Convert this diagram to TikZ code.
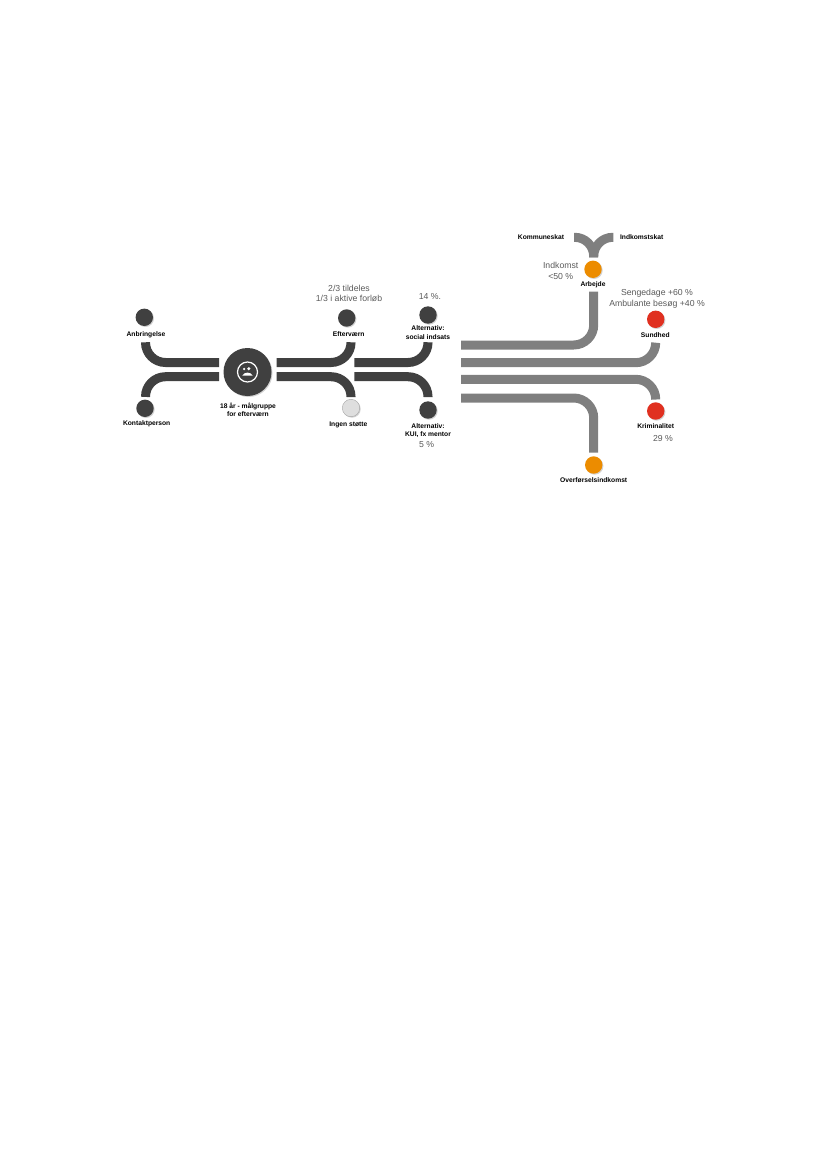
\documentclass[tikz,border=0pt]{standalone}
\usepackage{fontspec}
\setmainfont{Liberation Sans}
\usetikzlibrary{shadows}
\definecolor{efdark}{HTML}{404040}
\definecolor{efgray}{HTML}{7F7F7F}
\definecolor{eforange}{HTML}{EC8C00}
\definecolor{efred}{HTML}{E03020}
\definecolor{eflight}{HTML}{DEDEDE}
\definecolor{efnote}{HTML}{5A5A5A}
\tikzset{
  dot/.style={circle, minimum size=17.4pt, inner sep=0pt, drop shadow={shadow xshift=1pt, shadow yshift=-1pt, opacity=0.35}},
  lab/.style={font=\bfseries\fontsize{6.7}{8.4}\selectfont, align=center, inner sep=0pt, text=black},
  note/.style={font=\fontsize{8.7}{10.6}\selectfont, align=center, inner sep=0pt, text=efnote},
  band/.style={line width=9pt, rounded corners=20pt},
  dband/.style={band, draw=efdark},
  gband/.style={band, draw=efgray},
}
\begin{document}
\begin{tikzpicture}[x=1pt, y=-1pt]
  \useasboundingbox (0,0) rectangle (827,1169);
  % bands before the hub
  \coordinate (anbEnd) at (145.5,342.7);
  \coordinate (konEnd) at (145.5,396);
  \coordinate (hubInTop) at (219,362.5);
  \coordinate (hubInBot) at (219,376.7);
  \draw[dband] (anbEnd) |- (hubInTop);
  \draw[dband] (konEnd) |- (hubInBot);
  % bands after the hub
  \coordinate (hubOutTop) at (276.7,362.5);
  \coordinate (hubOutBot) at (276.7,376.7);
  \coordinate (eftEnd) at (351,343);
  \coordinate (ingEnd) at (351,397);
  \draw[dband] (eftEnd) |- (hubOutTop);
  \draw[dband] (ingEnd) |- (hubOutBot);
  % bands to the alternatives
  \coordinate (altInTop) at (354.3,362.5);
  \coordinate (altInBot) at (354.3,376.7);
  \coordinate (socEnd) at (428,343);
  \coordinate (kuiEnd) at (428,397);
  \draw[dband] (socEnd) |- (altInTop);
  \draw[dband] (kuiEnd) |- (altInBot);
  % outcome bands
  \coordinate (arbIn) at (461,345);
  \coordinate (sunIn) at (461,362.7);
  \coordinate (kriIn) at (461,379.3);
  \coordinate (ovfIn) at (461,398);
  \coordinate (arbEnd) at (593.7,291.7);
  \coordinate (sunEnd) at (655.7,342.7);
  \coordinate (kriEnd) at (655.7,399);
  \coordinate (ovfEnd) at (593.7,452.7);
  \draw[gband] (arbEnd) |- (arbIn);
  \draw[gband] (sunEnd) |- (sunIn);
  \draw[gband] (kriEnd) |- (kriIn);
  \draw[gband] (ovfEnd) |- (ovfIn);
  % tax fork above Arbejde
  \coordinate (forkEnd) at (593.7,257.3);
  \coordinate (komEnd) at (574,237.3);
  \coordinate (indEnd) at (613.3,237.3);
  \draw[gband, rounded corners=19pt] (forkEnd) |- (komEnd);
  \draw[gband, rounded corners=19pt] (forkEnd) |- (indEnd);
  % hub
  \node[dot, fill=efdark, minimum size=48pt] (hub) at (247.5,372) {};
  \draw[white, line width=1.2pt] (hub) circle (10);
  \fill[white] ([shift={(-3.4,-3)}]hub.center) circle (1.3);
  \fill[white] ([shift={(1.3,-3.3)}]hub.center) circle (1.7);
  \fill[white] ([shift={(-5.2,3.6)}]hub.center) .. controls ([shift={(-3,-0.4)}]hub.center) and ([shift={(3,-0.4)}]hub.center) .. ([shift={(5.2,3.6)}]hub.center) -- cycle;
  % circles
  \node[dot, fill=efdark] (anb) at (144.3,317.3) {};
  \node[dot, fill=efdark] (kon) at (145,408.3) {};
  \node[dot, fill=efdark] (eft) at (346.7,318) {};
  \node[dot, fill=eflight, draw=efgray!70, line width=0.4pt] (ing) at (351,408) {};
  \node[dot, fill=efdark] (soc) at (428,315) {};
  \node[dot, fill=efdark] (kui) at (428,410) {};
  \node[dot, fill=eforange] (arb) at (593,269.3) {};
  \node[dot, fill=efred] (sun) at (655.7,319.3) {};
  \node[dot, fill=efred] (kri) at (655.7,411) {};
  \node[dot, fill=eforange] (ovf) at (593.7,465) {};
  % labels
  \node[lab] (anbLab) at (146,334.3) {Anbringelse};
  \node[lab] (konLab) at (146.7,424) {Kontaktperson};
  \node[lab] (hubLab) at (248,409.5) {18 år - målgruppe\\for efterværn};
  \node[lab] (eftLab) at (348.7,334.3) {Efterværn};
  \node[lab] (ingLab) at (348.3,424.7) {Ingen støtte};
  \node[lab] (socLab) at (428,332.7) {Alternativ:\\social indsats};
  \node[lab] (kuiLab) at (428,430.7) {Alternativ:\\KUI, fx mentor};
  \node[lab] (komLab) at (541,237.3) {Kommuneskat};
  \node[lab] (indLab) at (641.7,237.3) {Indkomstskat};
  \node[lab] (arbLab) at (593,284.7) {Arbejde};
  \node[lab] (sunLab) at (655.3,335) {Sundhed};
  \node[lab] (kriLab) at (655.7,426) {Kriminalitet};
  \node[lab] (ovfLab) at (593.7,480) {Overførselsindkomst};
  % notes
  \node[note] (eftNote) at (349,293.5) {2/3 tildeles\\1/3 i aktive forløb};
  \node[note] (socNote) at (430,296.7) {14 \%.};
  \node[note] (kuiNote) at (426.7,444.3) {5 \%};
  \node[note] (arbNote) at (560.7,271) {Indkomst\\<50 \%};
  \node[note] (sunNote) at (657,298.5) {Sengedage +60 \%\\Ambulante besøg +40 \%};
  \node[note] (kriNote) at (663,439) {29 \%};
\end{tikzpicture}
\end{document}
